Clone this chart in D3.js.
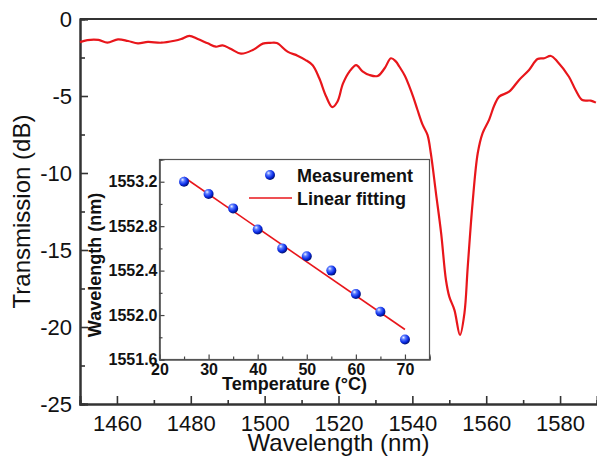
<!DOCTYPE html>
<html>
<head>
<meta charset="utf-8">
<script src="https://cdn.jsdelivr.net/npm/d3@7"></script>
<style>
  html, body { margin: 0; padding: 0; background: #fff; }
  svg { display: block; }
  text { font-family: "Liberation Sans", Arial, sans-serif; fill: #111; }
</style>
</head>
<body>
<svg id="chart" width="597" height="461"></svg>
<script>
// ---- Main spectrum data ----
const wavelengthNm = [1450,1452,1455,1457.4,1460.3,1463,1465.7,1468.4,1472,1475.6,1477.4,1479.6,1481.9,1484.6,1486.8,1488.6,1490.9,1493.6,1496.8,1499.5,1501.5,1503.3,1506.2,1508.9,1511,1513,1514.8,1516.6,1518.3,1519.7,1521.2,1523,1524.8,1526.5,1528.4,1530.6,1532.5,1534.2,1535.5,1536.5,1538,1539.2,1540.3,1541.4,1542.8,1544.1,1545.0,1546.4,1547.8,1549.1,1550.0,1551.4,1552.9,1554.1,1555.0,1556.3,1557.7,1559.0,1560.8,1562.2,1563.5,1566.2,1568.9,1571.6,1573.9,1575.7,1577.5,1579.3,1582.4,1584.2,1586,1588.3,1589.7];
const transmissionDb = [-1.50,-1.37,-1.36,-1.54,-1.32,-1.43,-1.58,-1.49,-1.54,-1.41,-1.30,-1.10,-1.30,-1.58,-1.80,-1.71,-1.95,-2.25,-2.01,-1.60,-1.55,-1.56,-2.12,-2.38,-2.65,-3.0,-3.85,-5.0,-5.72,-5.37,-4.2,-3.4,-2.99,-3.4,-3.64,-3.70,-3.2,-2.55,-2.75,-3.10,-3.7,-4.39,-5.1,-5.91,-6.88,-7.53,-8.72,-11.32,-13.92,-16.95,-18.03,-18.90,-20.52,-19.11,-16.08,-11.97,-8.72,-7.42,-6.53,-5.6,-5.04,-4.72,-3.96,-3.31,-2.60,-2.55,-2.40,-2.77,-3.75,-4.61,-5.26,-5.30,-5.43];
const xMajorTicks = [1460,1480,1500,1520,1540,1560,1580];
const xMinorTicks = [1450,1470,1490,1510,1530,1550,1570,1590];
const yMajorTicks = [0,-5,-10,-15,-20,-25];
const yMinorTicks = [-2.5,-7.5,-12.5,-17.5,-22.5];

// ---- Inset data ----
const temperatureC = [25,30,35,40,45,50,55,60,65,70];
const peakWavelength = [1553.20,1553.09,1552.96,1552.77,1552.60,1552.53,1552.40,1552.19,1552.03,1551.78];
const fitTemperature = [25,70];
const fitWavelength = [1553.24,1551.87];
const insetXTicks = [20,30,40,50,60,70];
const insetXMinor = [25,35,45,55,65,75];
const insetYTicks = [1551.6,1552.0,1552.4,1552.8,1553.2];
const insetYMinor = [1551.8,1552.2,1552.6,1553.0,1553.4];
const legendLabels = ["Measurement","Linear fitting"];

const svg = d3.select("#chart");
const axisColor = "#333";
const red = "#e8161b";

// ---- Main chart ----
const x = d3.scaleLinear().domain([1450,1590]).range([80,597]);
const y = d3.scaleLinear().domain([-25,0]).range([404,19]);

// top frame line
svg.append("line").attr("x1",x(1450)).attr("x2",x(1590)+2).attr("y1",y(0)).attr("y2",y(0))
  .attr("stroke",axisColor).attr("stroke-width",2);

const gx = svg.append("g").attr("transform",`translate(0,${y(-25)})`)
  .call(d3.axisBottom(x).tickValues(xMajorTicks).tickSize(-8).tickPadding(11).tickFormat(d3.format("d")));
svg.append("g").attr("transform",`translate(0,${y(-25)})`)
  .call(d3.axisBottom(x).tickValues(xMinorTicks).tickSize(-4).tickFormat(""));
const gy = svg.append("g").attr("transform",`translate(${x(1450)},0)`)
  .call(d3.axisLeft(y).tickValues(yMajorTicks).tickSize(-8).tickPadding(8).tickFormat(d => d === 0 ? "0" : "-" + Math.abs(d)));
svg.append("g").attr("transform",`translate(${x(1450)},0)`)
  .call(d3.axisLeft(y).tickValues(yMinorTicks).tickSize(-5).tickFormat(""));

svg.selectAll(".domain").attr("stroke",axisColor).attr("stroke-width",2);
svg.selectAll(".tick line").attr("stroke",axisColor).attr("stroke-width",1.6);
svg.selectAll(".tick text").attr("font-family","Liberation Sans, Arial, sans-serif").attr("font-size",22).attr("fill","#111");
gx.selectAll(".tick text").attr("dy","0.71em");

svg.append("text").attr("x",(80+597)/2).attr("y",451).attr("text-anchor","middle")
  .attr("font-size",24).text("Wavelength (nm)");
svg.append("text").attr("transform",`translate(30,${(19+404)/2}) rotate(-90)`).attr("text-anchor","middle")
  .attr("font-size",24).text("Transmission (dB)");

const line = d3.line().x((d,i) => x(wavelengthNm[i])).y(d => y(d)).curve(d3.curveCatmullRom.alpha(0.5));
svg.append("path").datum(transmissionDb).attr("d",line).attr("fill","none")
  .attr("stroke",red).attr("stroke-width",2.2).attr("stroke-linejoin","round");

// ---- Inset ----
const xi = d3.scaleLinear().domain([20,75]).range([159.5,429.5]);
const yi = d3.scaleLinear().domain([1551.6,1553.4]).range([359.5,159.5]);
const inset = svg.append("g");
inset.append("rect").attr("x",xi(20)).attr("y",yi(1553.4)).attr("width",xi(75)-xi(20)).attr("height",yi(1551.6)-yi(1553.4))
  .attr("fill","#fff").attr("stroke","#555").attr("stroke-width",1.2);

const defs = svg.append("defs");
const grad = defs.append("radialGradient").attr("id","sphere").attr("cx","38%").attr("cy","35%").attr("r","65%").attr("fx","35%").attr("fy","30%");
grad.append("stop").attr("offset","0%").attr("stop-color","#eef1ff");
grad.append("stop").attr("offset","30%").attr("stop-color","#5b7cff");
grad.append("stop").attr("offset","70%").attr("stop-color","#0a2be6");
grad.append("stop").attr("offset","100%").attr("stop-color","#001070");

const ixg = inset.append("g").attr("transform",`translate(0,${yi(1551.6)})`)
  .call(d3.axisBottom(xi).tickValues(insetXTicks).tickSize(-5).tickPadding(4).tickFormat(d3.format("d")));
inset.append("g").attr("transform",`translate(0,${yi(1551.6)})`)
  .call(d3.axisBottom(xi).tickValues(insetXMinor).tickSize(-3).tickFormat(""));
const iyg = inset.append("g").attr("transform",`translate(${xi(20)},0)`)
  .call(d3.axisLeft(yi).tickValues(insetYTicks).tickSize(-5).tickPadding(2).tickFormat(d3.format(".1f")));
inset.append("g").attr("transform",`translate(${xi(20)},0)`)
  .call(d3.axisLeft(yi).tickValues(insetYMinor).tickSize(-3).tickFormat(""));
inset.selectAll(".domain").attr("stroke","#555").attr("stroke-width",1.2);
inset.selectAll(".tick line").attr("stroke","#444").attr("stroke-width",1.2);
inset.selectAll(".tick text").attr("font-family","Liberation Sans, Arial, sans-serif").attr("font-size",16).attr("font-weight","bold").attr("fill","#111");
ixg.selectAll(".tick text").attr("dy","0.71em");

inset.append("text").attr("x",xi(47.5)).attr("y",390).attr("text-anchor","middle")
  .attr("font-size",18).attr("font-weight","bold").text("Temperature (\u00B0C)");
inset.append("text").attr("transform",`translate(101,265) rotate(-90)`).attr("text-anchor","middle")
  .attr("font-size",18).attr("font-weight","bold").text("Wavelength (nm)");

inset.append("line").attr("x1",xi(fitTemperature[0])).attr("y1",yi(fitWavelength[0]))
  .attr("x2",xi(fitTemperature[1])).attr("y2",yi(fitWavelength[1]))
  .attr("stroke",red).attr("stroke-width",1.6);
inset.selectAll("circle.pt").data(peakWavelength).join("circle").attr("class","pt")
  .attr("cx",(d,i) => xi(temperatureC[i])).attr("cy",d => yi(d)).attr("r",5)
  .attr("fill","url(#sphere)");

// legend
inset.append("circle").attr("cx",270).attr("cy",175).attr("r",5).attr("fill","url(#sphere)");
inset.append("text").attr("x",297).attr("y",182).attr("font-size",18).attr("font-weight","bold").text(legendLabels[0]);
inset.append("line").attr("x1",249).attr("x2",292).attr("y1",198).attr("y2",198).attr("stroke",red).attr("stroke-width",1.6);
inset.append("text").attr("x",297).attr("y",205).attr("font-size",18).attr("font-weight","bold").text(legendLabels[1]);
</script>
</body>
</html>
